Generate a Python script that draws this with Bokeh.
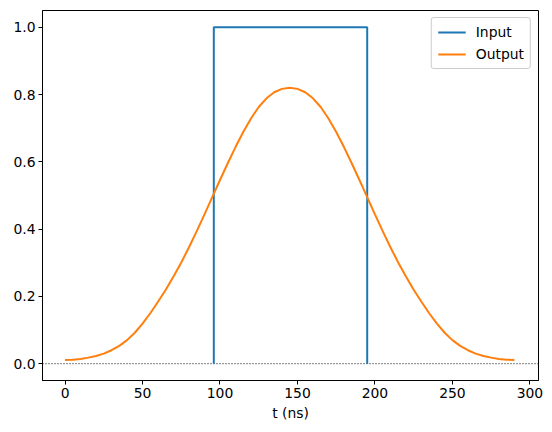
from bokeh.plotting import figure
from bokeh.models import Span, Range1d, FixedTicker, PrintfTickFormatter, Legend, LegendItem
from bokeh.embed import file_html
from bokeh.resources import INLINE

# ---- data ----
input_t = [96, 96, 195, 195]
input_v = [0.0, 1.0, 1.0, 0.0]

output_t = list(range(0, 295, 5))
output_v = [0.011, 0.012, 0.014, 0.018, 0.023, 0.030, 0.040, 0.053, 0.070, 0.092,
            0.119, 0.150, 0.184, 0.220, 0.259, 0.301, 0.346, 0.394, 0.444, 0.495,
            0.546, 0.596, 0.644, 0.689, 0.729, 0.763, 0.789, 0.807, 0.817, 0.820,
            0.817, 0.807, 0.789, 0.763, 0.729, 0.689, 0.644, 0.596, 0.546, 0.495,
            0.444, 0.394, 0.346, 0.301, 0.259, 0.220, 0.184, 0.150, 0.119, 0.092,
            0.070, 0.053, 0.040, 0.030, 0.023, 0.018, 0.014, 0.012, 0.011]

x_ticks = [0, 50, 100, 150, 200, 250, 300]
y_ticks = [0.0, 0.2, 0.4, 0.6, 0.8, 1.0]
x_label = "t (ns)"
series_names = ["Input", "Output"]

FONT = "DejaVu Sans"
FS = "13.9px"

p = figure(width=552, height=430, output_backend="svg", toolbar_location=None,
           x_range=Range1d(-14.55, 305.55), y_range=Range1d(-0.05, 1.05),
           min_border_left=42, min_border_right=14, min_border_top=10, min_border_bottom=50)

p.xgrid.visible = False
p.ygrid.visible = False
p.outline_line_color = "black"
p.outline_line_width = 1
p.outline_line_alpha = 1
p.background_fill_color = "white"
p.border_fill_color = "white"

p.xaxis.ticker = FixedTicker(ticks=x_ticks)
p.yaxis.ticker = FixedTicker(ticks=y_ticks)
p.yaxis.formatter = PrintfTickFormatter(format="%.1f")
p.xaxis.axis_label = x_label

for ax in (p.xaxis[0], p.yaxis[0]):
    ax.major_tick_in = 0
    ax.major_tick_out = 4
    ax.minor_tick_in = 0
    ax.minor_tick_out = 0
    ax.major_tick_line_color = "black"
    ax.axis_line_color = "black"
    ax.major_label_text_font = FONT
    ax.major_label_text_font_size = FS
    ax.major_label_text_color = "black"
    ax.major_label_standoff = 3
    ax.axis_label_text_font = FONT
    ax.axis_label_text_font_size = FS
    ax.axis_label_text_font_style = "normal"
    ax.axis_label_text_color = "black"
    ax.axis_label_standoff = 4

zero = Span(location=0, dimension="width", line_color="black", line_width=1,
            line_dash="1 2", level="underlay")
p.add_layout(zero)

r1 = p.line(input_t, input_v, line_color="#1f77b4", line_width=2)
r2 = p.line(output_t, output_v, line_color="#ff7f0e", line_width=2)

legend = Legend(items=[LegendItem(label=series_names[0], renderers=[r1]),
                       LegendItem(label=series_names[1], renderers=[r2])],
                location="top_right")
legend.border_line_color = "#cccccc"
legend.border_line_alpha = 1
legend.border_radius = 3
legend.background_fill_alpha = 0.8
legend.label_text_font = FONT
legend.label_text_font_size = FS
legend.label_text_color = "black"
legend.glyph_width = 28
legend.glyph_height = 14
legend.label_height = 14
legend.label_standoff = 10
legend.spacing = 6
legend.padding = 6
legend.margin = 7
p.add_layout(legend)

open("out.html", "w").write(file_html(p, INLINE))
